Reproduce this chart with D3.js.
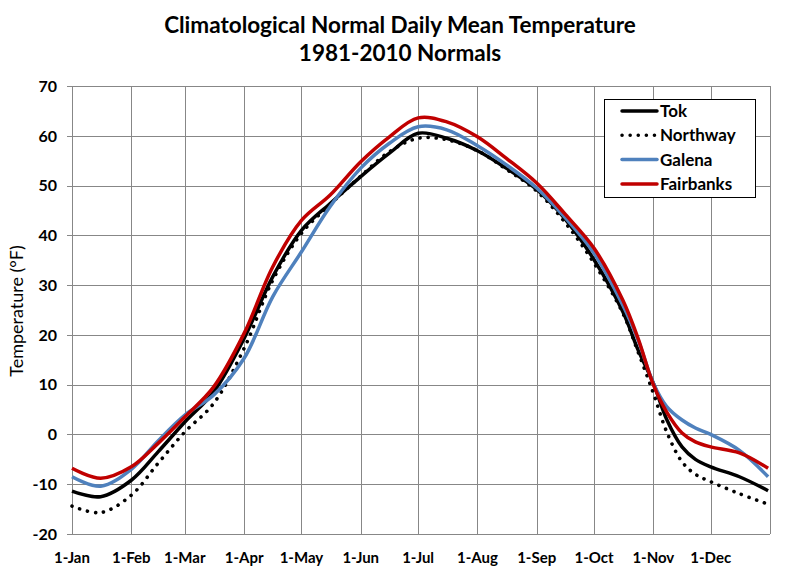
<!DOCTYPE html>
<html>
<head>
<meta charset="utf-8">
<script src="https://cdn.jsdelivr.net/npm/d3@7"></script>
<style>
  body { margin: 0; background: #fff; }
  text { font-family: Lato, "Open Sans", sans-serif; }
</style>
</head>
<body>
<div id="chart"></div>
<script>
// Climatological normal daily mean temperature, 1981-2010
var days = [0, 15, 31, 45, 59, 74, 90, 105, 120, 135, 151, 166, 181, 196, 212, 227, 243, 258, 273, 288, 296, 304, 311, 319, 326, 334, 349, 364];
var tok = [-11.4, -12.5, -9.2, -3.5, 2.5, 8.5, 19.3, 31.7, 41, 46.4, 51.8, 56.5, 60.5, 59.5, 57, 53.5, 49.2, 43.2, 35.1, 24.7, 17, 10.3, 3, -2.5, -5, -6.5, -8.5, -11.3];
var northway = [-14.4, -15.7, -12.2, -5.8, 0.5, 6.2, 17.3, 31, 40.4, 46.2, 51.9, 56.8, 59.5, 59.2, 57, 53.3, 48.9, 42.5, 34.4, 24.4, 16.6, 8.3, 0.5, -5.5, -8, -9.5, -11.9, -14];
var galena = [-8.5, -10.4, -7, -1.3, 3.9, 7.9, 15.3, 27.7, 36.7, 45.8, 53.5, 58.5, 61.8, 61.2, 58, 54.2, 49.5, 43.5, 36.4, 26, 19, 10.3, 5.6, 2.9, 1.3, 0, -3.2, -8.5];
var fairbanks = [-6.8, -8.8, -6.5, -1.8, 3.5, 9.5, 20.3, 33.7, 43, 48.1, 54.8, 59.8, 63.6, 62.8, 59.8, 55.5, 50.5, 44.2, 37.4, 27, 19.3, 10, 4.5, 0.3, -1.5, -2.5, -3.7, -6.8];

var monthLabels = ["1-Jan", "1-Feb", "1-Mar", "1-Apr", "1-May", "1-Jun", "1-Jul", "1-Aug", "1-Sep", "1-Oct", "1-Nov", "1-Dec"];
var monthStarts = [0, 31, 59, 90, 120, 151, 181, 212, 243, 273, 304, 334];
var yTicks = [-20, -10, 0, 10, 20, 30, 40, 50, 60, 70];

var series = [
  { name: "Tok", values: tok, color: "#000000", dash: null },
  { name: "Northway", values: northway, color: "#000000", dash: "0.1 8" },
  { name: "Galena", values: galena, color: "#4F81BD", dash: null },
  { name: "Fairbanks", values: fairbanks, color: "#C00000", dash: null }
];

var width = 800, height = 576;
var plotLeft = 72, plotRight = 770, plotTop = 86, plotBottom = 534;

var svg = d3.select("#chart").append("svg")
  .attr("width", width).attr("height", height);

var x = d3.scaleLinear().domain([0, 365]).range([plotLeft, plotRight]);
var y = d3.scaleLinear().domain([-20, 70]).range([plotBottom, plotTop]);

// title
svg.append("text").attr("x", 400).attr("y", 33).attr("text-anchor", "middle")
  .attr("font-size", 22.5).attr("font-weight", "bold").text("Climatological Normal Daily Mean Temperature");
svg.append("text").attr("x", 400).attr("y", 61).attr("text-anchor", "middle")
  .attr("font-size", 22.5).attr("font-weight", "bold").text("1981-2010 Normals");

// gridlines
var grid = svg.append("g").attr("stroke", "#878787").attr("stroke-width", 1);
grid.selectAll("line.h").data(yTicks).join("line")
  .attr("x1", plotLeft - 5).attr("x2", plotRight)
  .attr("y1", function (d) { return Math.round(y(d)) + 0.5; })
  .attr("y2", function (d) { return Math.round(y(d)) + 0.5; });
grid.selectAll("line.v").data(monthStarts.concat([365])).join("line")
  .attr("y1", plotTop).attr("y2", plotBottom)
  .attr("x1", function (d) { return Math.round(x(d)) + 0.5; })
  .attr("x2", function (d) { return Math.round(x(d)) + 0.5; });

// y tick labels
svg.append("g").selectAll("text").data(yTicks).join("text")
  .attr("x", plotLeft - 15).attr("y", function (d) { return y(d); })
  .attr("dy", "0.36em").attr("text-anchor", "end")
  .attr("font-size", 16).attr("font-weight", "bold")
  .text(function (d) { return d; });

// x tick labels
svg.append("g").selectAll("text").data(monthStarts).join("text")
  .attr("x", function (d) { return x(d); }).attr("y", 563)
  .attr("text-anchor", "middle")
  .attr("font-size", 15).attr("font-weight", "bold")
  .text(function (d, i) { return monthLabels[i]; });

// y axis title
svg.append("text")
  .attr("transform", "translate(23," + 311 + ") rotate(-90)")
  .attr("text-anchor", "middle").attr("font-size", 18)
  .text("Temperature (°F)");

// lines
var line = d3.line()
  .x(function (d, i) { return x(days[i]); })
  .y(function (d) { return y(d); })
  .curve(d3.curveCatmullRom.alpha(0.5));

svg.append("g").selectAll("path").data(series).join("path")
  .attr("d", function (s) { return line(s.values); })
  .attr("fill", "none")
  .attr("stroke", function (s) { return s.color; })
  .attr("stroke-width", function (s) { return s.dash ? 3.6 : 3.5; })
  .attr("stroke-linecap", function (s) { return s.dash ? "round" : "butt"; })
  .attr("stroke-linejoin", "round")
  .attr("stroke-dasharray", function (s) { return s.dash; });

// legend
var legend = svg.append("g");
legend.append("rect").attr("x", 604.5).attr("y", 99.5).attr("width", 151).attr("height", 98)
  .attr("fill", "#fff").attr("stroke", "#000").attr("stroke-width", 1);
var rows = legend.selectAll("g").data(series).join("g")
  .attr("transform", function (d, i) { return "translate(0," + (111 + i * 24.3) + ")"; });
rows.append("line").attr("x1", 622).attr("x2", 657).attr("y1", 0).attr("y2", 0)
  .attr("stroke", function (s) { return s.color; })
  .attr("stroke-width", 3.5)
  .attr("stroke-linecap", "round")
  .attr("stroke-dasharray", function (s) { return s.dash; });
rows.append("text").attr("x", 660).attr("y", 0).attr("dy", "0.36em")
  .attr("font-size", 17).attr("font-weight", "bold")
  .text(function (s) { return s.name; });
</script>
</body>
</html>
